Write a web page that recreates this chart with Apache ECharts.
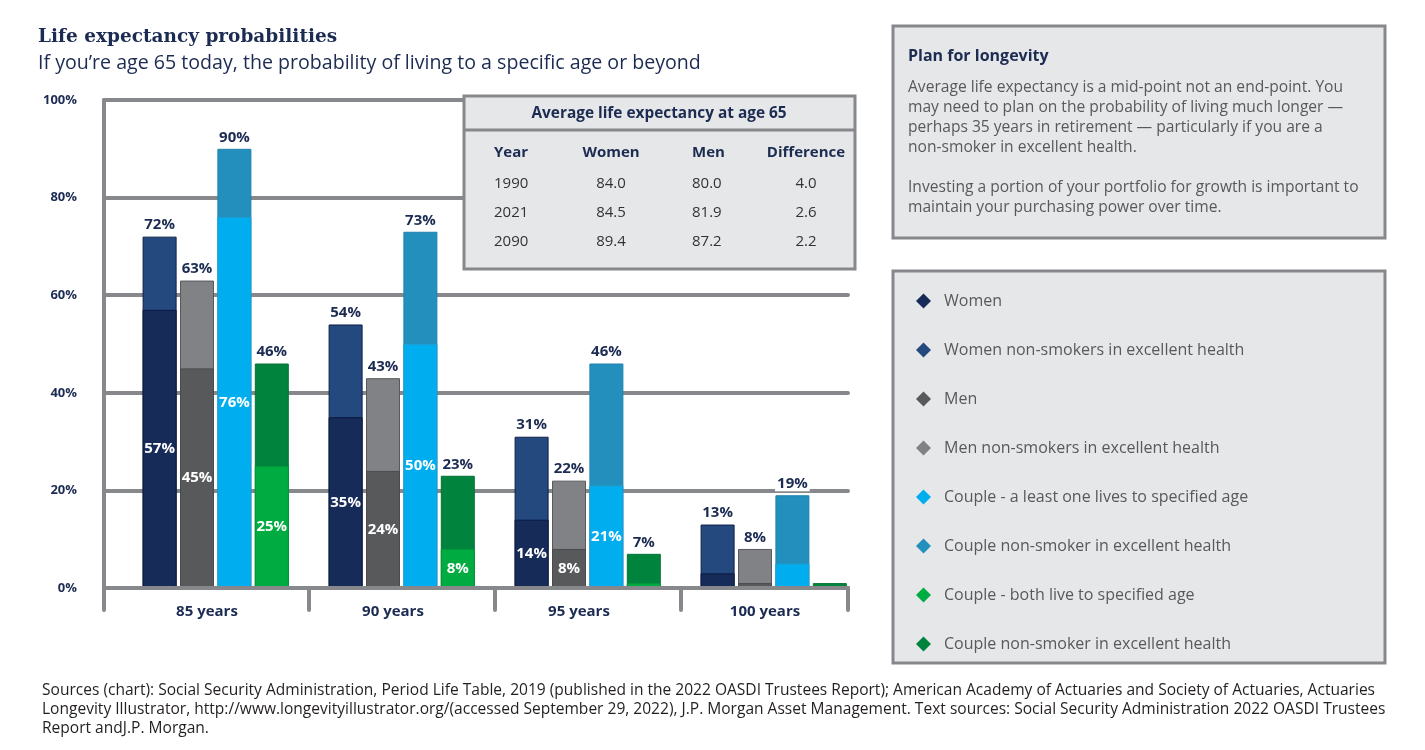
<!DOCTYPE html>
<html><head><meta charset="utf-8">
<script src="https://cdn.jsdelivr.net/npm/echarts@6/dist/echarts.min.js"></script>
<style>html,body{margin:0;padding:0;background:#fff}#c{width:1425px;height:750px}</style>
</head><body><div id="c"></div>
<script>
const categories = ['85 years', '90 years', '95 years', '100 years'];
const womenBase = [57, 35, 14, 3];
const womenNS = [72, 54, 31, 13];
const menBase = [45, 24, 8, 1];
const menNS = [63, 43, 22, 8];
const coupleOneBase = [76, 50, 21, 5];
const coupleOneNS = [90, 73, 46, 19];
const coupleBothBase = [25, 8, 1, 0];
const coupleBothNS = [46, 23, 7, 1];
const yTicks = [0, 20, 40, 60, 80, 100];

const tableTitle = 'Average life expectancy at age 65';
const tableHeads = ['Year', 'Women', 'Men', 'Difference'];
const tableYears = ['1990', '2021', '2090'];
const tableWomen = ['84.0', '84.5', '89.4'];
const tableMen = ['80.0', '81.9', '87.2'];
const tableDiff = ['4.0', '2.6', '2.2'];

const boxTitle = 'Plan for longevity';
const boxLines = [
  'Average life expectancy is a mid-point not an end-point. You',
  'may need to plan on the probability of living much longer \u2014',
  'perhaps 35 years in retirement \u2014 particularly if you are a',
  'non-smoker in excellent health.',
  '',
  'Investing a portion of your portfolio for growth is important to',
  'maintain your purchasing power over time.'
];
const footerLines = [
  'Sources (chart): Social Security Administration, Period Life Table, 2019 (published in the 2022 OASDI Trustees Report); American Academy of Actuaries and Society of Actuaries, Actuaries',
  'Longevity Illustrator, http://www.longevityillustrator.org/(accessed September 29, 2022), J.P. Morgan Asset Management. Text sources: Social Security Administration 2022 OASDI Trustees',
  'Report andJ.P. Morgan.'
];

const NAVY = '#1C2B52';
const GRID = '#87888B';
const BOXFILL = '#E6E7E8';
const FONT = '"Open Sans"';

const N = {
  w: 'Women', wns: 'Women non-smokers in excellent health',
  m: 'Men', mns: 'Men non-smokers in excellent health',
  c1: 'Couple - a least one lives to specified age', c1ns: 'Couple non-smoker in excellent health',
  c2: 'Couple - both live to specified age', c2ns: 'Couple non-smoker in excellent health '
};

const topLabel = {
  show: true, position: 'top', distance: 4, color: NAVY, fontFamily: 'Open Sans', fontWeight: 'bold', fontSize: 15,
  backgroundColor: '#fff', padding: [0, 2, 0, 2],
  formatter: p => (p.value >= 2 ? p.value + '%' : '')
};
const inLabel = {
  show: true, position: 'inside', color: '#fff', fontFamily: 'Open Sans', fontWeight: 'bold', fontSize: 15,
  formatter: p => (p.value >= 8 ? p.value + '%' : '')
};

function bar(name, data, axis, color, border, label, z) {
  return {
    type: 'bar', name, data, xAxisIndex: axis, yAxisIndex: 0, barWidth: 34, barGap: '10%', z,
    itemStyle: { color, borderColor: border, borderWidth: 1 },
    label, emphasis: { disabled: true }, animation: false
  };
}

const series = [
  { type: 'bar', name: 'spacerA', data: [], xAxisIndex: 0, yAxisIndex: 0, barWidth: 34, barGap: '10%', silent: true },
  bar(N.wns, womenNS, 0, '#24497F', '#0E1F47', topLabel, 2),
  bar(N.mns, menNS, 0, '#808285', '#58595B', topLabel, 2),
  bar(N.c1ns, coupleOneNS, 0, '#238FBC', '#1D82AD', topLabel, 2),
  bar(N.c2ns, coupleBothNS, 0, '#00843D', '#007335', topLabel, 2),
  { type: 'bar', name: 'spacerB', data: [], xAxisIndex: 1, yAxisIndex: 0, barWidth: 34, barGap: '10%', silent: true },
  bar(N.w, womenBase, 1, '#162B58', '#0B1A40', inLabel, 3),
  bar(N.m, menBase, 1, '#58595B', '#4A4A4C', inLabel, 3),
  bar(N.c1, coupleOneBase, 1, '#00AEEF', '#1D9FD6', inLabel, 3),
  bar(N.c2, coupleBothBase, 1, '#00AC41', '#00983A', inLabel, 3)
];

const graphics = [];
// Titles
graphics.push({ type: 'text', x: 38, y: 37, style: { text: 'Life expectancy probabilities', fill: NAVY, font: 'bold 18.5px "DejaVu Serif"', verticalAlign: 'middle' } });
graphics.push({ type: 'text', x: 38, y: 63, style: { text: 'If you\u2019re age 65 today, the probability of living to a specific age or beyond', fill: NAVY, font: '19.6px ' + FONT, verticalAlign: 'middle' } });

// Text box
graphics.push({ type: 'rect', shape: { x: 893, y: 26, width: 492, height: 212 }, style: { fill: BOXFILL, stroke: GRID, lineWidth: 3 }, z: 1 });
graphics.push({ type: 'text', x: 908, y: 56, style: { text: boxTitle, fill: NAVY, font: 'bold 16px ' + FONT, verticalAlign: 'middle' }, z: 2 });
boxLines.forEach((t, i) => {
  graphics.push({ type: 'text', x: 908, y: 88 + i * 20, style: { text: t, fill: '#58595B', font: '15.6px ' + FONT, verticalAlign: 'middle' }, z: 2 });
});

// Legend box
graphics.push({ type: 'rect', shape: { x: 893, y: 271, width: 492, height: 392 }, style: { fill: BOXFILL, stroke: GRID, lineWidth: 3 }, z: 1 });

// Table
graphics.push({ type: 'rect', shape: { x: 464, y: 96, width: 391, height: 173 }, style: { fill: BOXFILL, stroke: GRID, lineWidth: 3 }, z: 20 });
graphics.push({ type: 'line', shape: { x1: 464, y1: 130, x2: 855, y2: 130 }, style: { stroke: GRID, lineWidth: 3 }, z: 21 });
graphics.push({ type: 'text', x: 659, y: 114, style: { text: tableTitle, fill: NAVY, font: 'bold 15.4px ' + FONT, align: 'center', verticalAlign: 'middle' }, z: 22 });
const colX = [494, 611, 692, 806];
const colAlign = ['left', 'center', 'left', 'center'];
tableHeads.forEach((h, j) => {
  graphics.push({ type: 'text', x: colX[j], y: 153, style: { text: h, fill: NAVY, font: 'bold 15px ' + FONT, align: colAlign[j], verticalAlign: 'middle' }, z: 22 });
});
const cols = [tableYears, tableWomen, tableMen, tableDiff];
tableYears.forEach((_, i) => {
  cols.forEach((col, j) => {
    graphics.push({ type: 'text', x: colX[j], y: 184 + i * 29, style: { text: col[i], fill: '#333333', font: '15px ' + FONT, align: colAlign[j], verticalAlign: 'middle' }, z: 22 });
  });
});

// Footer
footerLines.forEach((t, i) => {
  graphics.push({ type: 'text', x: 42, y: 691 + i * 19, style: { text: t, fill: '#231F20', font: '15.55px ' + FONT, verticalAlign: 'middle' } });
});

const chart = echarts.init(document.getElementById('c'), null, { renderer: 'canvas' });
chart.setOption({
  animation: false,
  backgroundColor: '#fff',
  textStyle: { fontFamily: 'Open Sans' },
  grid: { left: 104, top: 100, width: 744, height: 488, containLabel: false },
  xAxis: [
    {
      type: 'category', data: categories, gridIndex: 0, position: 'bottom',
      axisLine: { show: false }, axisTick: { show: false }, splitLine: { show: false },
      axisLabel: { color: NAVY, fontFamily: 'Open Sans', fontWeight: 'bold', fontSize: 15, margin: 16, padding: [0, 0, 0, 20] }
    },
    { type: 'category', data: categories, gridIndex: 0, show: false },
    {
      type: 'value', min: 0, max: 4, interval: 1, gridIndex: 0, position: 'bottom', z: 5,
      axisLine: { show: true, lineStyle: { color: GRID, width: 4, cap: 'round' } },
      axisTick: { show: true, length: 22, customValues: [0, 1.1, 2.1, 3.1, 4], lineStyle: { color: GRID, width: 4, cap: 'round' } },
      axisLabel: { show: false }, splitLine: { show: false }
    }
  ],
  yAxis: [{
    type: 'value', min: yTicks[0], max: yTicks[yTicks.length - 1], interval: 20,
    axisLine: { show: true, lineStyle: { color: GRID, width: 4 } },
    axisTick: { show: false },
    splitLine: { show: true, lineStyle: { color: GRID, width: 4, cap: 'round' } },
    axisLabel: { formatter: '{value}%', color: NAVY, fontFamily: 'Open Sans', fontWeight: 'bold', fontSize: 13, margin: 27 }
  }],
  legend: {
    orient: 'vertical', left: 911, top: 288, itemWidth: 15, itemHeight: 15, itemGap: 33, icon: 'diamond',
    selectedMode: false, z: 5,
    itemStyle: { borderWidth: 0 },
    data: [N.w, N.wns, N.m, N.mns, N.c1, N.c1ns, N.c2, N.c2ns],
    formatter: n => n.trim(),
    textStyle: { color: '#58595B', fontSize: 16, fontFamily: 'Open Sans', padding: [0, 0, 0, 8] }
  },
  series,
  graphic: { elements: graphics }
});
</script></body></html>
